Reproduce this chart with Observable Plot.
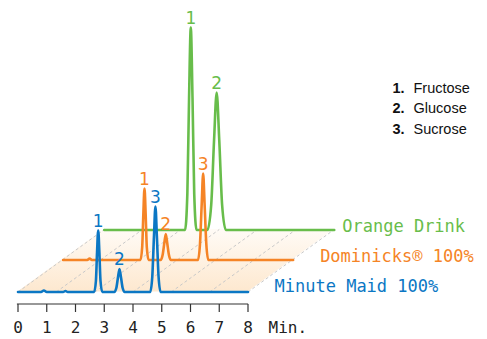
<!DOCTYPE html>
<html>
<head>
<meta charset="utf-8">
<script src="https://cdn.jsdelivr.net/npm/d3@7"></script>
<script src="https://cdn.jsdelivr.net/npm/@observablehq/plot@0.6"></script>
<style>
  html, body { margin: 0; padding: 0; background: #ffffff; }
  #chart { width: 487px; height: 339px; overflow: hidden; }
</style>
</head>
<body>
<div id="chart"></div>
<script>
// ---------- data ----------
const minutes = [0, 1, 2, 3, 4, 5, 6, 7, 8];
const axisUnit = "Min.";

const seriesNames = ["Minute Maid 100%", "Dominicks® 100%", "Orange Drink"];
// pseudo-3D offsets of each trace (minutes, signal units)
const seriesShiftT = [0, 1.57, 3.0];
const seriesShiftY = [0, 32, 62];

const blueTime   = [0, 0.80, 0.90, 1.00, 1.57, 1.65, 1.73, 2.65, 2.71, 2.75, 2.79, 2.83, 2.87, 2.93, 3.35, 3.42, 3.48, 3.53, 3.58, 3.64, 3.71, 4.60, 4.67, 4.73, 4.78, 4.83, 4.89, 4.96, 8];
const blueSignal = [0, 0, 1.5, 0, 0, 1, 0, 0, 11, 40, 61.5, 40, 11, 0, 0, 4, 15, 23, 15, 4, 0, 0, 15, 56, 85.5, 56, 15, 0, 0];

const orangeTime   = [0, 0.84, 0.92, 1.00, 2.69, 2.75, 2.79, 2.83, 2.87, 2.91, 2.97, 3.39, 3.46, 3.52, 3.57, 3.62, 3.68, 3.75, 4.69, 4.76, 4.82, 4.87, 4.92, 4.98, 5.05, 8];
const orangeSignal = [0, 0, 1.5, 0, 0, 13, 46, 71.5, 46, 13, 0, 0, 5, 17, 26, 17, 5, 0, 0, 16, 56, 86.5, 56, 16, 0, 0];

const greenTime   = [0, 2.81, 2.89, 2.95, 3.01, 3.07, 3.13, 3.21, 3.59, 3.72, 3.82, 3.91, 4.00, 4.10, 4.23, 8];
const greenSignal = [0, 0, 36, 132, 202.5, 132, 36, 0, 0, 25, 90, 137.5, 90, 25, 0, 0];

const bluePeakT = [2.79, 3.53, 4.78],   bluePeakH = [61.5, 23, 85.5],   bluePeakName = ["1", "2", "3"];
const orangePeakT = [2.83, 3.57, 4.87], orangePeakH = [71.5, 26, 86.5], orangePeakName = ["1", "2", "3"];
const greenPeakT = [3.01, 3.91],        greenPeakH = [202.5, 137.5],    greenPeakName = ["1", "2"];

const legendNums = ["1.", "2.", "3."];
const legendNames = ["Fructose", "Glucose", "Sucrose"];

// floor grid: diagonal guide positions (minutes) and floor depth
const floorLines = [0, 1.33, 2.67, 4, 5.33, 6.67, 8];
const floorDepthT = 3.0;
const floorDepthY = 62.5;

// ---------- styles ----------
const colors = ["#0b77c4", "#f58426", "#68bd4b"];
const mono = "DejaVu Sans Mono";
const labelDx = [26.5, 27, 8];
const labelDy = [-5, -3, -3];
const legendDy = [87.4, 108, 128.5];

// ---------- build tables ----------
const traces = [
  d3.zip(blueTime, blueSignal),
  d3.zip(orangeTime, orangeSignal),
  d3.zip(greenTime, greenSignal)
];
const peaks = [
  d3.zip(bluePeakT, bluePeakH, bluePeakName),
  d3.zip(orangePeakT, orangePeakH, orangePeakName),
  d3.zip(greenPeakT, greenPeakH, greenPeakName)
];
const tMax = minutes[minutes.length - 1];
const floor = [
  {y: 0, x1: minutes[0], x2: tMax},
  {y: floorDepthY, x1: minutes[0] + floorDepthT, x2: tMax + floorDepthT}
];

const order = [2, 1, 0]; // draw back to front

const marks = [
  Plot.areaX(floor, {y: "y", x1: "x1", x2: "x2", fill: "url(#floorGrad)"}),
  Plot.link(floorLines, {
    x1: d => d, y1: 0, x2: d => d + floorDepthT, y2: floorDepthY,
    stroke: "#c9c9c9", strokeWidth: 1, strokeDasharray: "3,2.5"
  })
];

for (const i of order) {
  marks.push(Plot.line(traces[i], {
    x: d => d[0] + seriesShiftT[i],
    y: d => d[1] + seriesShiftY[i],
    stroke: colors[i], strokeWidth: 2.6, curve: "monotone-x"
  }));
}
for (const i of order) {
  marks.push(Plot.text(peaks[i], {
    x: d => d[0] + seriesShiftT[i],
    y: d => d[1] + seriesShiftY[i],
    text: d => d[2],
    fill: colors[i], fontFamily: "DejaVu Sans", fontSize: 17,
    textAnchor: "middle", lineAnchor: "middle", dy: -9.4
  }));
  marks.push(Plot.text([seriesNames[i]], {
    x: () => tMax + seriesShiftT[i],
    y: () => seriesShiftY[i],
    text: d => d,
    fill: colors[i], fontFamily: mono, fontSize: 17,
    textAnchor: "start", lineAnchor: "middle", dx: labelDx[i], dy: labelDy[i]
  }));
}

// legend
legendNums.forEach((n, i) => {
  marks.push(Plot.text([n], {
    frameAnchor: "top-left", dx: 392, dy: legendDy[i], text: d => d,
    fontFamily: "Liberation Sans", fontWeight: "bold", fontSize: 14.5, fill: "#111",
    textAnchor: "start", lineAnchor: "middle"
  }));
  marks.push(Plot.text([legendNames[i]], {
    frameAnchor: "top-left", dx: 413, dy: legendDy[i], text: d => d,
    fontFamily: "Liberation Sans", fontSize: 14.5, fill: "#111",
    textAnchor: "start", lineAnchor: "middle"
  }));
});

// x axis
marks.push(Plot.axisX({
  ticks: minutes, tickSize: 8, tickPadding: 9.5, tickFormat: d => String(d),
  stroke: "#333", strokeWidth: 1.2, fontSize: 16, fontFamily: mono, fill: "#222", label: null
}));
// axis domain line (through the x scale)
marks.push((index, scales, values, dims) => {
  const x = scales.x;
  const yPos = dims.height - dims.marginBottom;
  return d3.create("svg:line")
    .attr("x1", x(minutes[0]) - 0.6).attr("x2", x(tMax) + 0.6)
    .attr("y1", yPos).attr("y2", yPos)
    .attr("stroke", "#333").attr("stroke-width", 1.2).node();
});
marks.push(Plot.text([{t: tMax, label: axisUnit}], {
  x: "t", text: "label", frameAnchor: "bottom",
  dx: 20.5, dy: 23.5, textAnchor: "start", lineAnchor: "middle",
  fontFamily: mono, fontSize: 16, fill: "#222"
}));

const chart = Plot.plot({
  width: 487, height: 339,
  marginTop: 0, marginRight: 0, marginBottom: 35, marginLeft: 0,
  x: {domain: [0, 8], range: [17.5, 247.5]},
  y: {domain: [0, 280], range: [291.5, 11.5], axis: null},
  style: {fontFamily: mono, fontSize: "16px", background: "#ffffff", color: "#222"},
  marks
});

// gradient for the floor
const svg = d3.select(chart.tagName.toLowerCase() === "svg" ? chart : chart.querySelector("svg"));
const grad = svg.insert("defs", ":first-child").append("linearGradient")
  .attr("id", "floorGrad").attr("x1", 0).attr("y1", 1).attr("x2", 0).attr("y2", 0);
grad.append("stop").attr("offset", "0%").attr("stop-color", "#fde8cf");
grad.append("stop").attr("offset", "100%").attr("stop-color", "#fffbf6");

document.getElementById("chart").appendChild(chart);
</script>
</body>
</html>
